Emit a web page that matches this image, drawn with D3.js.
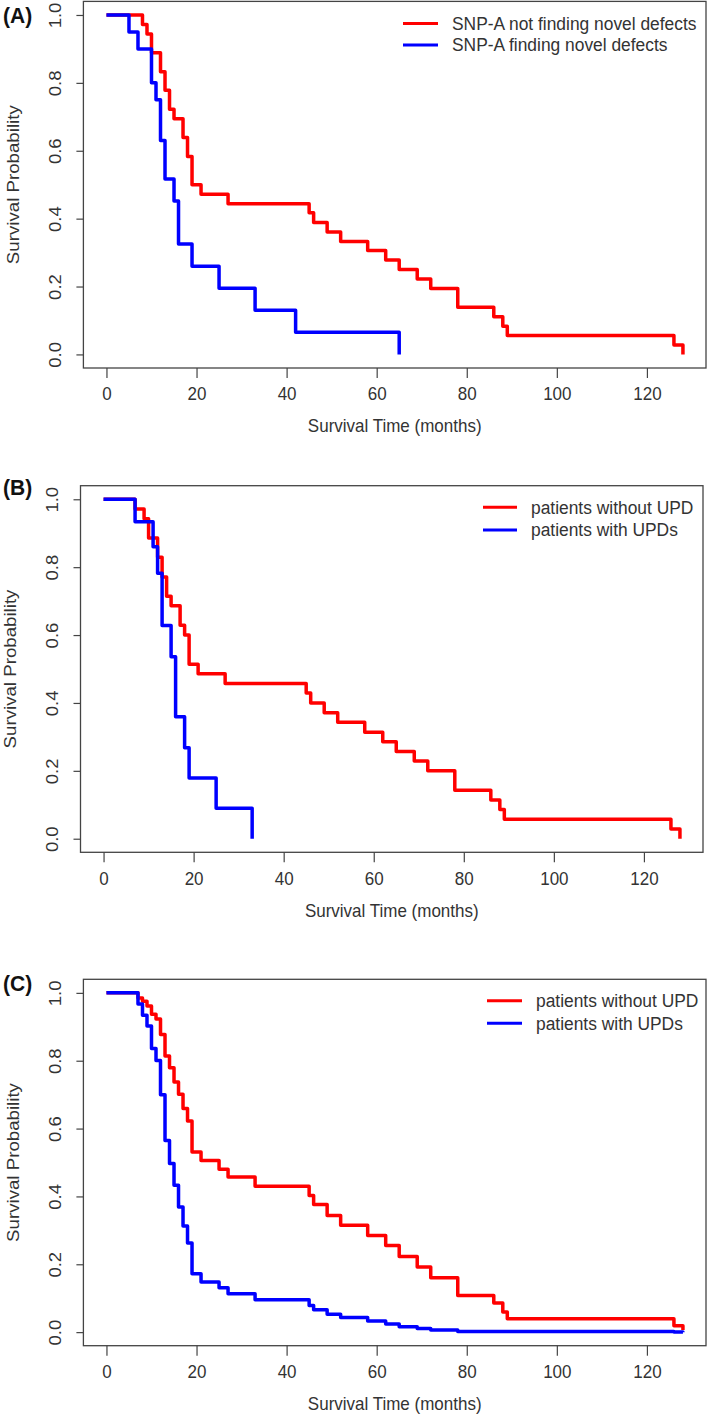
<!DOCTYPE html>
<html>
<head>
<meta charset="utf-8">
<script src="https://d3js.org/d3.v7.min.js"></script>
<style>
  html, body { margin: 0; padding: 0; background: #fff; }
  svg { display: block; font-family: "Liberation Sans", Arial, sans-serif; }
</style>
</head>
<body>
<svg id="chart" width="709" height="1416"></svg>
<script>
// ---------- data ----------
const xTicks = [0, 20, 40, 60, 80, 100, 120];
const yTicks = [0, 0.2, 0.4, 0.6, 0.8, 1.0];
const xTitle = "Survival Time (months)";
const yTitle = "Survival Probability";

const panelLabels = ["(A)", "(B)", "(C)"];
const legendA = ["SNP-A not finding novel defects", "SNP-A finding novel defects"];
const legendB = ["patients without UPD", "patients with UPDs"];
const legendC = ["patients without UPD", "patients with UPDs"];

// Panel A
const aRedTime = [0, 8, 9, 10, 12, 13, 14, 15, 17, 18, 19, 21, 27, 45, 46, 49, 52, 58, 62, 65, 69, 72, 78, 86, 88, 89, 126, 128];
const aRedSurv = [1, 0.972, 0.944, 0.889, 0.833, 0.778, 0.722, 0.694, 0.639, 0.583, 0.5, 0.472, 0.444, 0.417, 0.389, 0.361, 0.333, 0.306, 0.278, 0.25, 0.222, 0.194, 0.139, 0.111, 0.083, 0.056, 0.028, 0];
const aBlueTime = [0, 5, 7, 10, 11, 12, 13, 15, 16, 19, 25, 33, 42, 65];
const aBlueSurv = [1, 0.95, 0.9, 0.8, 0.75, 0.63, 0.517, 0.452, 0.325, 0.26, 0.195, 0.13, 0.065, 0];

// Panel B
const bRedTime = [0, 7, 9, 10, 12, 13, 14, 15, 17, 18, 19, 21, 27, 45, 46, 49, 52, 58, 62, 65, 69, 72, 78, 86, 88, 89, 126, 128];
const bRedSurv = [1, 0.971, 0.943, 0.886, 0.829, 0.771, 0.714, 0.686, 0.629, 0.6, 0.514, 0.486, 0.457, 0.429, 0.4, 0.371, 0.343, 0.314, 0.286, 0.257, 0.229, 0.2, 0.143, 0.114, 0.086, 0.057, 0.029, 0];
const bBlueTime = [0, 7, 11, 12, 13, 15, 16, 18, 19, 25, 33];
const bBlueSurv = [1, 0.934, 0.86, 0.782, 0.628, 0.536, 0.359, 0.268, 0.179, 0.0895, 0];

// Panel C
const cRedTime = [0, 7, 8, 9, 10, 11, 12, 13, 14, 15, 16, 17, 18, 19, 21, 25, 27, 33, 45, 46, 49, 52, 58, 62, 65, 69, 72, 78, 86, 88, 89, 126, 128];
const cRedSurv = [1, 0.985, 0.9755, 0.961, 0.937, 0.923, 0.877, 0.814, 0.779, 0.737, 0.701, 0.659, 0.622, 0.531, 0.506, 0.48, 0.457, 0.43, 0.403, 0.376, 0.344, 0.315, 0.285, 0.255, 0.223, 0.192, 0.16, 0.108, 0.0856, 0.059, 0.0395, 0.019, 0.006];
const cBlueTime = [0, 7, 8, 9, 10, 11, 12, 13, 14, 15, 16, 17, 18, 19, 21, 25, 27, 33, 45, 46, 49, 52, 58, 62, 65, 69, 72, 78, 126, 128];
const cBlueSurv = [1, 0.967, 0.934, 0.902, 0.836, 0.801, 0.70, 0.565, 0.497, 0.433, 0.369, 0.313, 0.263, 0.172, 0.1475, 0.131, 0.113, 0.0956, 0.0788, 0.066, 0.053, 0.043, 0.0325, 0.0236, 0.016, 0.011, 0.006, 0.002, 0.0005, 0];

// ---------- drawing ----------
const svg = d3.select("#chart");
const RED = "#ff0000", BLUE = "#0000ff", TXT = "#333333", BOX = "#444444";
const FONT = "Liberation Sans, Arial, sans-serif";

function zip(t, s) { return t.map((v, i) => ({ t: v, s: s[i] })); }

function drawPanel(cfg) {
  const { left, right, top, bottom, label, labelY, legend, leg, red, blue } = cfg;
  const x = d3.scaleLinear().domain([-5.12, 133.12]).range([left, right]);
  const y = d3.scaleLinear().domain([-0.04, 1.04]).range([bottom, top]);
  const g = svg.append("g");

  // box
  g.append("rect").attr("x", left).attr("y", top)
    .attr("width", right - left).attr("height", bottom - top)
    .attr("fill", "none").attr("stroke", BOX).attr("stroke-width", 1.3);

  // x axis
  const xa = d3.axisBottom(x).tickValues(xTicks).tickSize(10).tickFormat(d3.format("d"));
  const gx = g.append("g").attr("transform", `translate(0,${bottom})`).call(xa);
  gx.select(".domain").remove();
  gx.selectAll(".tick line").attr("stroke", BOX).attr("stroke-width", 1.2);
  gx.selectAll(".tick text").attr("fill", TXT).attr("font-size", 17)
    .attr("y", 0).attr("dy", null).attr("dominant-baseline", "central")
    .attr("transform", "translate(0,26) scale(1,1.1)")
    .style("font-family", FONT);

  // y axis
  const ya = d3.axisLeft(y).tickValues(yTicks).tickSize(7).tickFormat(d3.format(".1f"));
  const gy = g.append("g").attr("transform", `translate(${left},0)`).call(ya);
  gy.select(".domain").remove();
  gy.selectAll(".tick line").attr("stroke", BOX).attr("stroke-width", 1.2);
  gy.selectAll(".tick text").attr("fill", TXT).attr("font-size", 18.5)
    .attr("x", null).attr("dy", null)
    .attr("text-anchor", "middle").attr("dominant-baseline", "central")
    .attr("transform", "translate(-28,0) rotate(-90) scale(1,0.92)")
    .style("font-family", FONT);

  // titles
  g.append("text").attr("transform", `translate(${(left + right) / 2},${bottom + 58}) scale(1,1.1)`)
    .attr("text-anchor", "middle").attr("dominant-baseline", "central")
    .attr("font-size", 17).attr("fill", TXT).text(xTitle);
  const ymid = (top + bottom) / 2;
  g.append("text").attr("transform", `translate(${left - 70},${ymid}) rotate(-90) scale(1,0.91)`)
    .attr("text-anchor", "middle").attr("dominant-baseline", "central")
    .attr("font-size", 18.7).attr("fill", TXT).text(yTitle);

  // panel label
  g.append("text").attr("transform", `translate(3,${labelY}) scale(1,1.05)`).attr("dominant-baseline", "central")
    .attr("font-size", 21).attr("font-weight", "bold").attr("fill", "#111").text(label);

  // curves (blue drawn over red)
  const line = d3.line().x(d => x(d.t)).y(d => y(d.s)).curve(d3.curveStepAfter);
  [[red, RED], [blue, BLUE]].forEach(([data, col]) => {
    g.append("path").datum(data).attr("d", line)
      .attr("fill", "none").attr("stroke", col).attr("stroke-width", 3.5)
      .attr("stroke-linejoin", "round").attr("stroke-linecap", "butt");
  });

  // legend
  [RED, BLUE].forEach((col, i) => {
    const ly = leg.y0 + i * leg.dy;
    g.append("line").attr("x1", leg.x1).attr("x2", leg.x2).attr("y1", ly).attr("y2", ly)
      .attr("stroke", col).attr("stroke-width", 3);
    g.append("text").attr("transform", `translate(${leg.tx},${ly}) scale(1,1.08)`)
      .attr("dominant-baseline", "central")
      .attr("font-size", 17.4).attr("fill", TXT).text(legend[i]);
  });
}

drawPanel({
  left: 83.4, right: 706, top: 1.4, bottom: 368, label: panelLabels[0], labelY: 16,
  legend: legendA, leg: { x1: 403, x2: 438, tx: 452, y0: 23.5, dy: 21.5 },
  red: zip(aRedTime, aRedSurv), blue: zip(aBlueTime, aBlueSurv)
});
drawPanel({
  left: 80.5, right: 703, top: 485.7, bottom: 852.3, label: panelLabels[1], labelY: 488,
  legend: legendB, leg: { x1: 483, x2: 517, tx: 531, y0: 507.3, dy: 22.7 },
  red: zip(bRedTime, bRedSurv), blue: zip(bBlueTime, bBlueSurv)
});
drawPanel({
  left: 83.4, right: 706, top: 979.3, bottom: 1345.7, label: panelLabels[2], labelY: 984,
  legend: legendC, leg: { x1: 487, x2: 522, tx: 536, y0: 1000.7, dy: 22.6 },
  red: zip(cRedTime, cRedSurv), blue: zip(cBlueTime, cBlueSurv)
});
</script>
</body>
</html>
